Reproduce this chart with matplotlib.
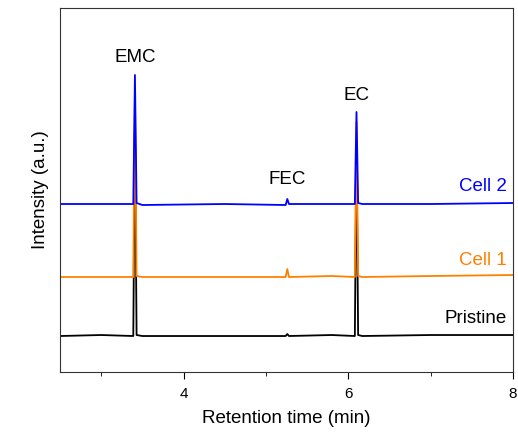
import numpy as np
import matplotlib.pyplot as plt

plt.rcParams['font.family'] = ['Liberation Sans', 'DejaVu Sans']

# retention time points (min) and intensities (a.u.)
t = [2.5, 3.0, 3.39, 3.41, 3.43, 3.50, 4.5, 5.24, 5.26, 5.28, 5.8, 6.08, 6.10, 6.12, 6.17, 7.0, 8.0]
pristine = [36, 37, 36, 250, 37, 36, 36, 36, 38, 36, 37, 36, 230, 37, 36, 37, 37]
cell1 = [95, 95, 95, 280, 96, 95, 95, 95, 103, 95, 96, 95, 250, 96, 95, 96, 97]
cell2 = [168, 168, 168, 297, 169, 167, 168, 167, 173, 168, 168, 168, 260, 169, 168, 168, 169]

series = [("Pristine", pristine, "black"),
          ("Cell 1", cell1, "#ff8000"),
          ("Cell 2", cell2, "#0000ff")]

fig = plt.figure(figsize=(5.18, 4.37), dpi=100)
ax = fig.add_axes([0.1158, 0.1487, 0.8745, 0.833])

for name, y, c in series:
    ax.plot(t, y, color=c, lw=1.3)

ax.set_xlim(2.5, 8)
ax.set_ylim(0, 364)
ax.set_xticks([4, 6, 8])
ax.set_xticks([3, 5, 7], minor=True)
ax.set_yticks([])
ax.tick_params(axis='x', which='major', length=5, labelsize=11, direction='out', pad=6)
ax.tick_params(axis='x', which='minor', length=3, direction='out')
for s in ax.spines.values():
    s.set_color('#333333')

ax.set_xlabel('Retention time (min)', fontsize=13.5, labelpad=6)
ax.set_ylabel('Intensity (a.u.)', fontsize=13.5, labelpad=8)

# peak labels
ax.text(3.41, 306, 'EMC', ha='center', va='bottom', fontsize=13.5)
ax.text(5.26, 184, 'FEC', ha='center', va='bottom', fontsize=13.5)
ax.text(6.10, 268, 'EC', ha='center', va='bottom', fontsize=13.5)

# series labels
ax.text(7.93, 177, 'Cell 2', ha='right', va='bottom', fontsize=13.5, color='#0000ff')
ax.text(7.93, 103, 'Cell 1', ha='right', va='bottom', fontsize=13.5, color='#ff8000')
ax.text(7.93, 45, 'Pristine', ha='right', va='bottom', fontsize=13.5, color='black')

plt.savefig('out.png', dpi=100)
